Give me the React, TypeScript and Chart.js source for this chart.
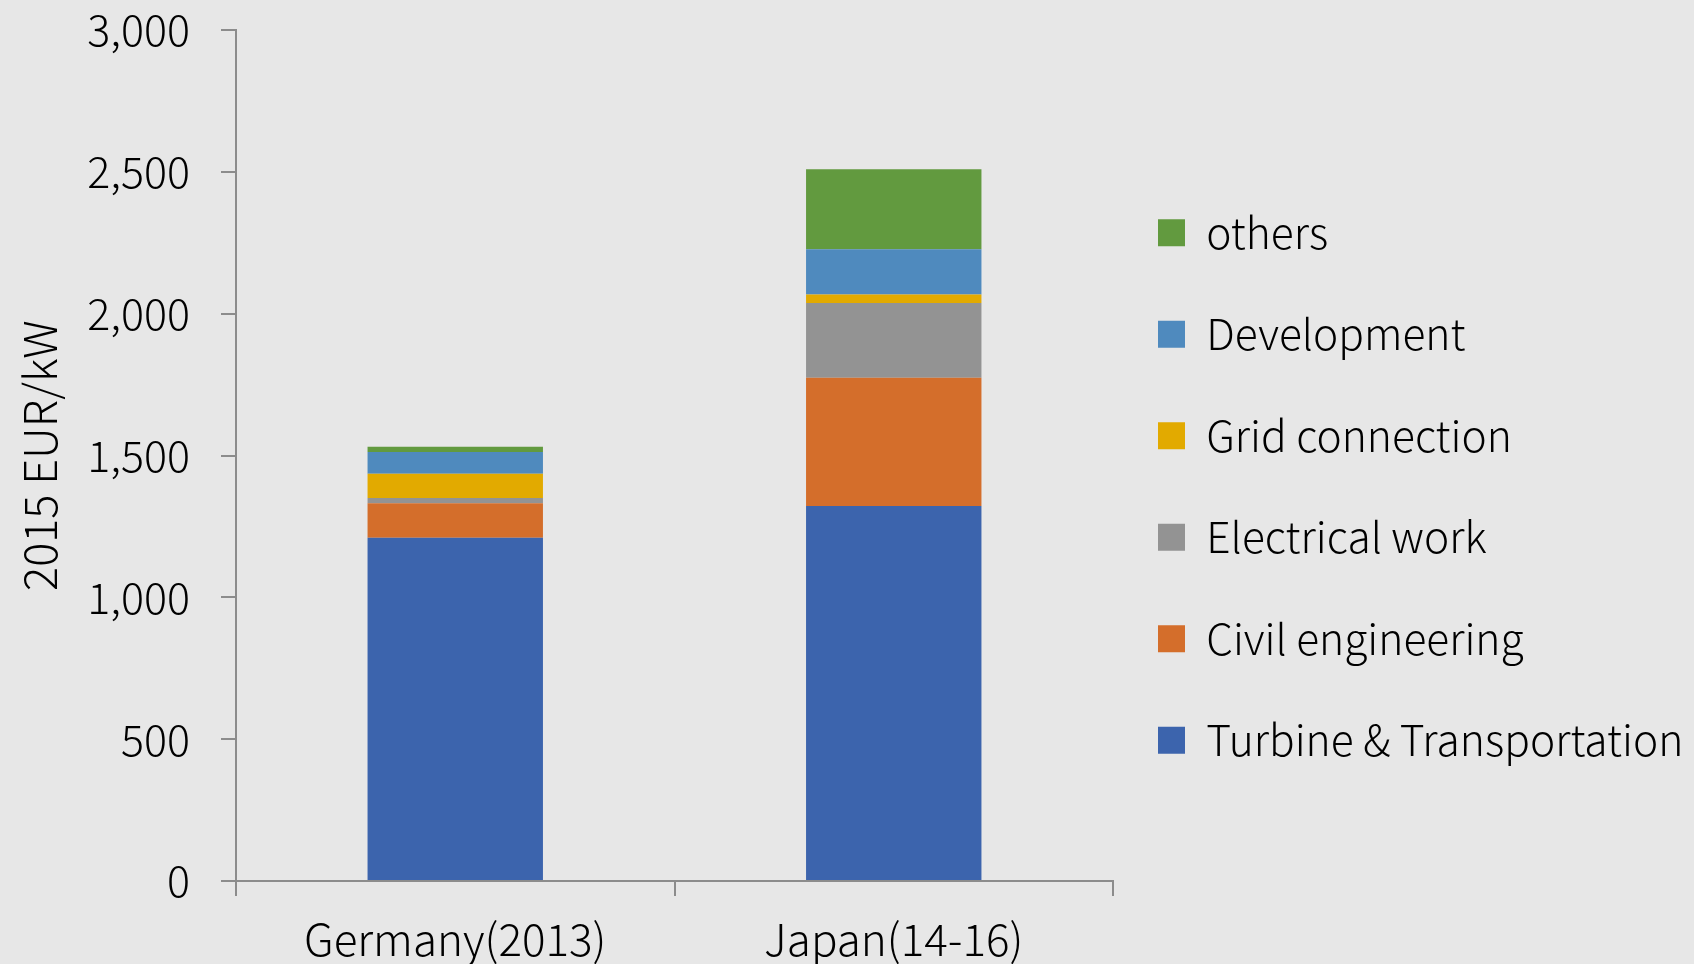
import React, { useEffect, useRef } from "react";
import { Chart, registerables } from "chart.js";

Chart.register(...registerables);

const categories = ["Germany(2013)", "Japan(14-16)"];
const seriesNames = ["Turbine & Transportation", "Civil engineering", "Electrical work", "Grid connection", "Development", "others"];
const turbine = [1210, 1322];
const civil = [122, 452];
const electrical = [18, 264];
const gridConn = [86, 30];
const development = [76, 159];
const others = [19, 282];
const seriesColors = ["#3c64ad", "#d46e2b", "#939393", "#e2aa00", "#4f8abe", "#629a3f"];
const yTickValues = [0, 500, 1000, 1500, 2000, 2500, 3000];
const yTitle = "2015 EUR/kW";

const FONT = "'Noto Sans CJK JP', 'Noto Sans', sans-serif";
const AXIS = "#8c8c8c";

const legendShift = {
  id: "legendShift",
  afterLayout(chart: any) {
    const l = chart.legend;
    if (l) {
      l.left -= 14;
      l.right = chart.width;
      l.width = l.right - l.left;
      l.top -= 10.6;
      l.bottom -= 10.6;
    }
  },
};

export default function App() {
  const ref = useRef<HTMLCanvasElement | null>(null);

  useEffect(() => {
    document.body.style.margin = "0";
    document.body.style.overflow = "hidden";
    const values = [turbine, civil, electrical, gridConn, development, others];
    const chart = new Chart(ref.current as HTMLCanvasElement, {
      type: "bar",
      data: {
        labels: categories,
        datasets: values.map((v, i) => ({
          label: seriesNames[i],
          data: v,
          backgroundColor: seriesColors[i],
          borderWidth: 0,
          barPercentage: 0.4,
          categoryPercentage: 1,
        })),
      },
      plugins: [legendShift],
      options: {
        animation: false,
        responsive: false,
        layout: { padding: { top: 30, left: 0, right: 0, bottom: 0 } },
        plugins: {
          tooltip: { enabled: false },
          legend: {
            position: "right",
            reverse: true,
            maxWidth: 581,
            labels: {
              boxWidth: 27,
              boxHeight: 27,
              padding: 59,
              color: "#000",
              font: { family: FONT, size: 42.5, weight: "300" },
            },
          },
        },
        scales: {
          x: {
            stacked: true,
            afterFit: (s: any) => {
              s.height = 83;
            },
            grid: {
              display: true,
              drawOnChartArea: false,
              drawTicks: true,
              tickLength: 15,
              color: AXIS,
              lineWidth: 2,
              offset: true,
            },
            border: { display: true, color: AXIS, width: 2 },
            ticks: { color: "#000", font: { family: FONT, size: 44, weight: "300" }, padding: 17, maxRotation: 0 },
          },
          y: {
            stacked: true,
            min: 0,
            max: 3000,
            afterBuildTicks: (axis: any) => {
              axis.ticks = yTickValues.map((v) => ({ value: v }));
            },
            afterFit: (s: any) => {
              s.width = 236;
              s.paddingTop = 0;
              s.paddingBottom = 0;
            },
            grid: {
              display: true,
              drawOnChartArea: false,
              drawTicks: true,
              tickLength: 15,
              color: AXIS,
              lineWidth: 2,
            },
            border: { display: true, color: AXIS, width: 2 },
            ticks: {
              color: "#000",
              font: { family: FONT, size: 43, weight: "300" },
              padding: 31,
              callback: (v: any) => Number(v).toLocaleString("en-US"),
            },
            title: {
              display: true,
              text: yTitle,
              color: "#000",
              font: { family: FONT, size: 45, weight: "300" },
              padding: { top: 13, bottom: 10 },
            },
          },
        },
      },
    });
    return () => chart.destroy();
  }, []);

  return (
    <div style={{ width: 1694, height: 964, background: "#e7e7e7" }}>
      <canvas ref={ref} width={1694} height={964} />
    </div>
  );
}
